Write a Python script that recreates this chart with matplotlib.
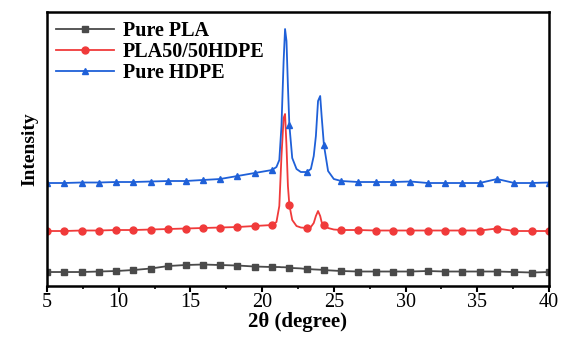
import matplotlib.pyplot as plt
from matplotlib.ticker import MultipleLocator

# 2theta positions (marker positions plus extra points around the peaks)
two_theta = [5.0, 6.21, 7.41, 8.62, 9.83, 11.03, 12.24, 13.45, 14.66, 15.86,
             17.07, 18.28, 19.48, 20.69, 21.0, 21.2, 21.35, 21.5, 21.6, 21.7,
             21.8, 21.9, 22.1, 22.4, 22.7, 23.1, 23.4, 23.6, 23.75, 23.9,
             24.05, 24.15, 24.31, 24.6, 25.0, 25.52, 26.72, 27.93, 29.14, 30.34,
             31.55, 32.76, 33.97, 35.17, 36.38, 37.59, 38.79, 40.0]
marker_pos = [5.0, 6.21, 7.41, 8.62, 9.83, 11.03, 12.24, 13.45, 14.66, 15.86,
              17.07, 18.28, 19.48, 20.69, 21.9, 23.1, 24.31, 25.52, 26.72, 27.93,
              29.14, 30.34, 31.55, 32.76, 33.97, 35.17, 36.38, 37.59, 38.79, 40.0]

pure_pla = [14, 14, 14, 14.5, 15, 16, 17.5, 20, 21, 21.5,
            21, 20.5, 19.5, 19, 19, 19, 18.8, 18.8, 18.7, 18.7,
            18.6, 18, 18, 17.8, 17.6, 17, 16.8, 16.6, 16.5, 16.4,
            16.3, 16.2, 16, 15.7, 15.4, 15, 14.5, 14.5, 14.5, 14.5,
            15, 14.5, 14.5, 14.5, 14.5, 14, 13.5, 14]
pla_hdpe = [55, 55, 55.5, 55.5, 56, 56, 56.5, 57, 57.5, 58,
            58.5, 59, 60, 61, 64, 80, 130, 168, 172, 140,
            100, 81, 66, 60, 58.5, 58, 59, 63, 70, 75,
            70, 64, 61, 58, 56.5, 56, 56, 55.5, 55.5, 55.5,
            55.5, 55.5, 55.5, 55.5, 57.5, 55, 55, 55]
pure_hdpe = [103, 103, 103.5, 103.5, 104, 104, 104.5, 105, 105, 106,
             107, 110, 113, 116, 119, 126, 160, 225, 257, 245,
             200, 161, 128, 117, 114, 114, 117, 130, 150, 185,
             190, 170, 141, 115, 107, 105, 104, 104, 104, 104.5,
             103, 103, 103, 103, 107, 103, 103, 103.5]

mk = [i for i, x in enumerate(two_theta) if x in marker_pos]

plt.rcParams['font.family'] = ['Liberation Serif', 'DejaVu Serif']
fig = plt.figure(figsize=(5.64, 3.38), dpi=100)
ax = fig.add_axes([0.0833, 0.1538, 0.89, 0.8107])

ax.plot(two_theta, pure_pla, color='#4a4a4a', lw=1.3, marker='s', ms=4.5,
        markevery=mk, label='Pure PLA')
ax.plot(two_theta, pla_hdpe, color='#f03a3a', lw=1.3, marker='o', ms=5,
        markevery=mk, label='PLA50/50HDPE')
ax.plot(two_theta, pure_hdpe, color='#1f60d8', lw=1.3, marker='^', ms=5,
        markevery=mk, label='Pure HDPE')

ax.set_xlim(5, 40)
ax.set_ylim(0, 274)
ax.xaxis.set_major_locator(MultipleLocator(5))
ax.xaxis.set_minor_locator(MultipleLocator(2.5))
ax.tick_params(axis='x', which='major', direction='out', length=4, width=1.5,
               labelsize=14.5, pad=1)
ax.tick_params(axis='x', which='minor', direction='out', length=2.5, width=1.2)
ax.set_yticks([])
for s in ax.spines.values():
    s.set_linewidth(1.8)

ax.set_xlabel('2θ (degree)', fontsize=15, fontweight='bold', labelpad=0)
ax.set_ylabel('Intensity', fontsize=14, fontweight='bold', labelpad=6)

leg = ax.legend(loc='upper left', frameon=False, handlelength=2.9,
                prop={'weight': 'bold', 'size': 14.5}, borderaxespad=0.15,
                borderpad=0.3, labelspacing=0.05, handletextpad=0.4)

fig.savefig('out.png', dpi=100)
